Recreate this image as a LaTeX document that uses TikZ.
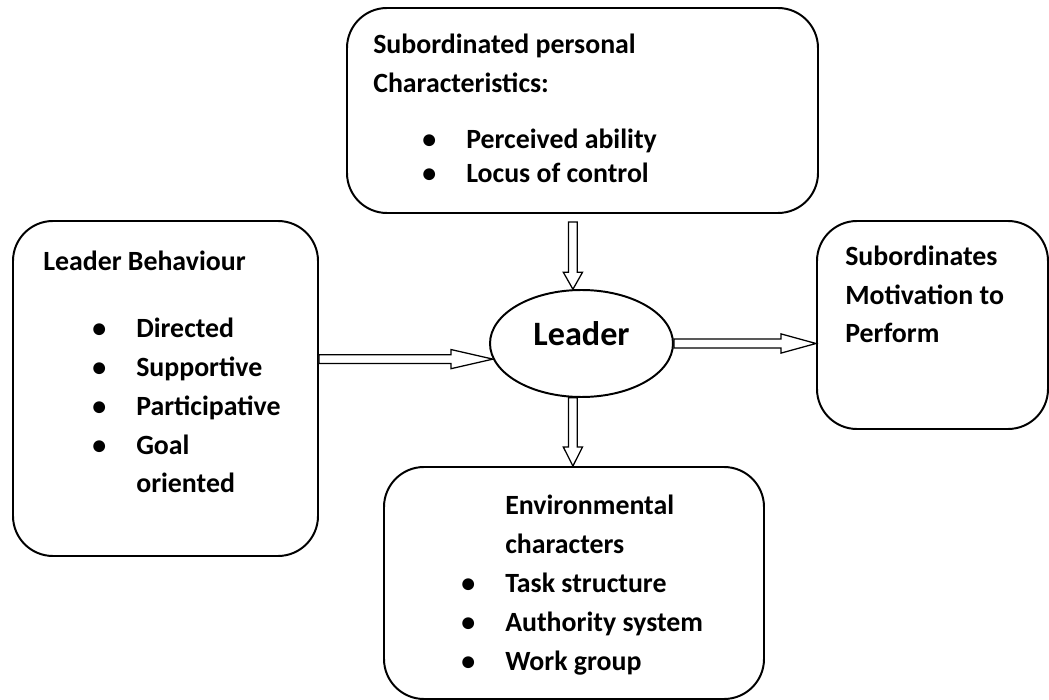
\documentclass[tikz,border=0pt]{standalone}
\usepackage{fontspec}
\setmainfont{Carlito}
\usetikzlibrary{calc}
\usetikzlibrary{shapes.geometric}
\def\shaftw{0.11cm}
\def\headw{0.24cm}
\newcommand{\itm}{\makebox[1.1cm][l]{\textbullet}}
\tikzstyle{box}=[draw, line width=1.4pt, rounded corners=1cm, inner sep=0pt]
\tikzstyle{box text}=[anchor=base west, align=left, inner sep=0pt, font=\fontsize{19.8}{27.7}\selectfont\bfseries]
\tikzstyle{leader}=[draw, ellipse, line width=1.4pt, inner sep=0pt, minimum width=4.575cm, minimum height=2.675cm, text height=0.55cm, text depth=0.425cm, font=\fontsize{24.3}{28}\selectfont\bfseries]
\tikzset{
  fat right/.style={draw, line width=0.9pt, fill=white, to path={
    ($(\tikztostart)+(0,\shaftw)$) -- ($(\tikztotarget)+(-#1,\shaftw)$)
    -- ($(\tikztotarget)+(-#1,\headw)$) -- (\tikztotarget)
    -- ($(\tikztotarget)+(-#1,-\headw)$) -- ($(\tikztotarget)+(-#1,-\shaftw)$)
    -- ($(\tikztostart)+(0,-\shaftw)$) -- cycle}},
  fat down/.style={draw, line width=0.9pt, fill=white, to path={
    ($(\tikztostart)+(\shaftw,0)$) -- ($(\tikztotarget)+(\shaftw,#1)$)
    -- ($(\tikztotarget)+(\headw,#1)$) -- (\tikztotarget)
    -- ($(\tikztotarget)+(-\headw,#1)$) -- ($(\tikztotarget)+(-\shaftw,#1)$)
    -- ($(\tikztostart)+(-\shaftw,0)$) -- cycle}}
}
\begin{document}
\begin{tikzpicture}
  \useasboundingbox (0,0) rectangle (26.225,-17.5);
  \node[box, minimum width=11.775cm, minimum height=5.125cm] (tb) at (14.5625,-2.7625) {};
  \node[box, minimum width=7.625cm, minimum height=8.375cm] (lb) at (4.1375,-9.7125) {};
  \node[box, minimum width=5.775cm, minimum height=5.2cm] (rb) at (23.3125,-8.125) {};
  \node[box, minimum width=9.5cm, minimum height=5.8cm] (eb) at (14.35,-14.575) {};
  \node[leader] (ld) at (14.5375,-8.5875) {Leader};
  \node[box text] (tbt) at (9.325,-4.575) {Subordinated personal\\Characteristics:\\[0.425cm]
    \hspace*{1.225cm}\itm Perceived ability\\[-0.1cm]\hspace*{1.225cm}\itm Locus of control};
  \node[box text] (lbt) at (1.075,-12.325) {Leader Behaviour\\[0.7cm]
    \hspace*{1.225cm}\itm Directed\\\hspace*{1.225cm}\itm Supportive\\
    \hspace*{1.225cm}\itm Participative\\\hspace*{1.225cm}\itm Goal\\
    \hspace*{2.325cm}oriented};
  \node[box text] (rbt) at (21.125,-8.575) {Subordinates\\Motivation to\\Perform};
  \node[box text] (ebt) at (11.525,-16.75) {\hspace*{1.1cm}Environmental\\\hspace*{1.1cm}characters\\
    \itm Task structure\\\itm Authority system\\\itm Work group};
  \draw[fat down=0.425cm] ($(tb.south -| ld.99)+(0,-0.2)$) to (ld.99);
  \draw[fat down=0.475cm] (ld.261) to (eb.north -| ld.261);
  \draw[fat right=1.05cm] (lb.east |- ld.190) to (ld.190);
  \draw[fat right=0.875cm] (ld.east) to (rb.west |- ld.east);
\end{tikzpicture}
\end{document}
